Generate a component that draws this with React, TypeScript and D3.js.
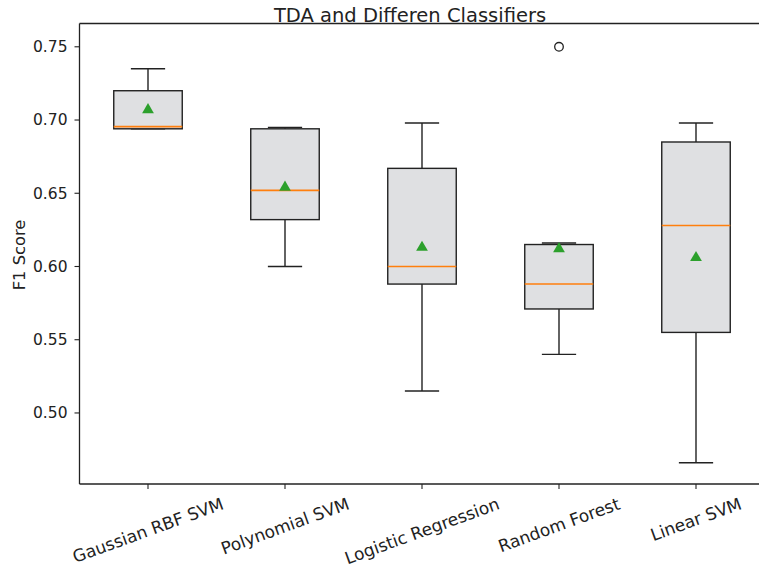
import React, { useEffect, useRef } from "react";
import * as d3 from "d3";

const categories = ["Gaussian RBF SVM", "Polynomial SVM", "Logistic Regression", "Random Forest", "Linear SVM"];
const whiskerLow = [0.694, 0.600, 0.515, 0.540, 0.466];
const q1 = [0.694, 0.632, 0.588, 0.571, 0.555];
const medians = [0.6955, 0.652, 0.600, 0.588, 0.628];
const q3 = [0.720, 0.694, 0.667, 0.615, 0.685];
const whiskerHigh = [0.735, 0.695, 0.698, 0.616, 0.698];
const means = [0.707, 0.654, 0.613, 0.612, 0.606];
const outliers: [number, number][] = [[3, 0.75]];
const yTicks = [0.5, 0.55, 0.6, 0.65, 0.7, 0.75];

const W = 759, H = 568;
const left = 79.5, right = 764.5, top = 23.5, bottom = 484;
const FONT = "DejaVu Sans";

export default function App() {
  const ref = useRef<SVGSVGElement>(null);
  useEffect(() => {
    const svg = d3.select(ref.current);
    svg.selectAll("*").remove();
    const x = d3.scaleLinear().domain([0.5, categories.length + 0.5]).range([left, right]);
    const y = d3.scaleLinear().domain([0.4515, 0.7659]).range([bottom, top]);
    const step = x(2) - x(1);
    const boxW = step * 0.5;
    const capW = step * 0.25;

    const g = svg.append("g");
    const data = categories.map((c, i) => ({ c, i, lo: whiskerLow[i], q1: q1[i], med: medians[i], q3: q3[i], hi: whiskerHigh[i], mean: means[i] }));
    const grp = g.selectAll("g.box").data(data).enter().append("g");
    grp.append("line").attr("x1", d => x(d.i + 1)).attr("x2", d => x(d.i + 1)).attr("y1", d => y(d.q3)).attr("y2", d => y(d.hi)).attr("stroke", "#222").attr("stroke-width", 1.4);
    grp.append("line").attr("x1", d => x(d.i + 1)).attr("x2", d => x(d.i + 1)).attr("y1", d => y(d.q1)).attr("y2", d => y(d.lo)).attr("stroke", "#222").attr("stroke-width", 1.4);
    grp.append("line").attr("x1", d => x(d.i + 1) - capW / 2).attr("x2", d => x(d.i + 1) + capW / 2).attr("y1", d => y(d.hi)).attr("y2", d => y(d.hi)).attr("stroke", "#222").attr("stroke-width", 1.4);
    grp.append("line").attr("x1", d => x(d.i + 1) - capW / 2).attr("x2", d => x(d.i + 1) + capW / 2).attr("y1", d => y(d.lo)).attr("y2", d => y(d.lo)).attr("stroke", "#222").attr("stroke-width", 1.4);
    grp.append("rect").attr("x", d => x(d.i + 1) - boxW / 2).attr("width", boxW).attr("y", d => y(d.q3)).attr("height", d => y(d.q1) - y(d.q3)).attr("fill", "#dfe0e2").attr("stroke", "#222").attr("stroke-width", 1.4);
    grp.append("line").attr("x1", d => x(d.i + 1) - boxW / 2).attr("x2", d => x(d.i + 1) + boxW / 2).attr("y1", d => y(d.med)).attr("y2", d => y(d.med)).attr("stroke", "#ff7f0e").attr("stroke-width", 1.6);
    const tri = d3.symbol().type(d3.symbolTriangle).size(60);
    grp.append("path").attr("d", tri() as string).attr("transform", d => `translate(${x(d.i + 1)},${y(d.mean)})`).attr("fill", "#2ca02c");
    g.selectAll("circle.out").data(outliers).enter().append("circle").attr("cx", d => x(d[0] + 1)).attr("cy", d => y(d[1])).attr("r", 4.3).attr("fill", "none").attr("stroke", "#222").attr("stroke-width", 1.3);

    svg.append("line").attr("x1", left).attr("x2", left).attr("y1", top).attr("y2", bottom).attr("stroke", "#222").attr("stroke-width", 1.3);
    svg.append("line").attr("x1", left).attr("x2", right).attr("y1", bottom).attr("y2", bottom).attr("stroke", "#222").attr("stroke-width", 1.3);
    svg.append("line").attr("x1", left).attr("x2", right).attr("y1", top).attr("y2", top).attr("stroke", "#222").attr("stroke-width", 1.3);

    const yt = svg.append("g").selectAll("g").data(yTicks).enter().append("g").attr("transform", d => `translate(0,${y(d)})`);
    yt.append("line").attr("x1", left - 5).attr("x2", left).attr("stroke", "#222").attr("stroke-width", 1.1);
    yt.append("text").attr("x", left - 12).attr("dy", "0.35em").attr("text-anchor", "end").attr("font-family", FONT).attr("font-size", 15.5).attr("fill", "#222").text(d => d3.format(".2f")(d));

    const xt = svg.append("g").selectAll("g").data(categories).enter().append("g");
    xt.append("line").attr("x1", (d, i) => x(i + 1)).attr("x2", (d, i) => x(i + 1)).attr("y1", bottom).attr("y2", bottom + 5).attr("stroke", "#222").attr("stroke-width", 1.1);
    const ang = 20 * Math.PI / 180;
    xt.append("text").attr("font-family", FONT).attr("font-size", 17).attr("fill", "#222").attr("text-anchor", "middle").attr("dominant-baseline", "central").text(d => d)
      .each(function (d, i) {
        const el = this as SVGTextElement;
        const w = el.getComputedTextLength();
        const h = 17;
        const bh = w * Math.sin(ang) + h * Math.cos(ang);
        const cx = x(i + 1);
        const cy = bottom + 11 + bh / 2;
        d3.select(el).attr("transform", `translate(${cx},${cy}) rotate(-20)`);
      });

    svg.append("text").attr("transform", `translate(25,255) rotate(-90)`).attr("text-anchor", "middle").attr("font-family", FONT).attr("font-size", 16.3).attr("fill", "#222").text("F1 Score");

    svg.append("text").attr("x", 410).attr("y", 21.5).attr("text-anchor", "middle").attr("font-family", FONT).attr("font-size", 19.5).attr("fill", "#222").text("TDA and Differen Classifiers");
  }, []);
  return (
    <div style={{ position: "absolute", left: 0, top: 0 }}>
      <svg ref={ref} width={W} height={H} style={{ display: "block", background: "#fff" }} />
    </div>
  );
}
